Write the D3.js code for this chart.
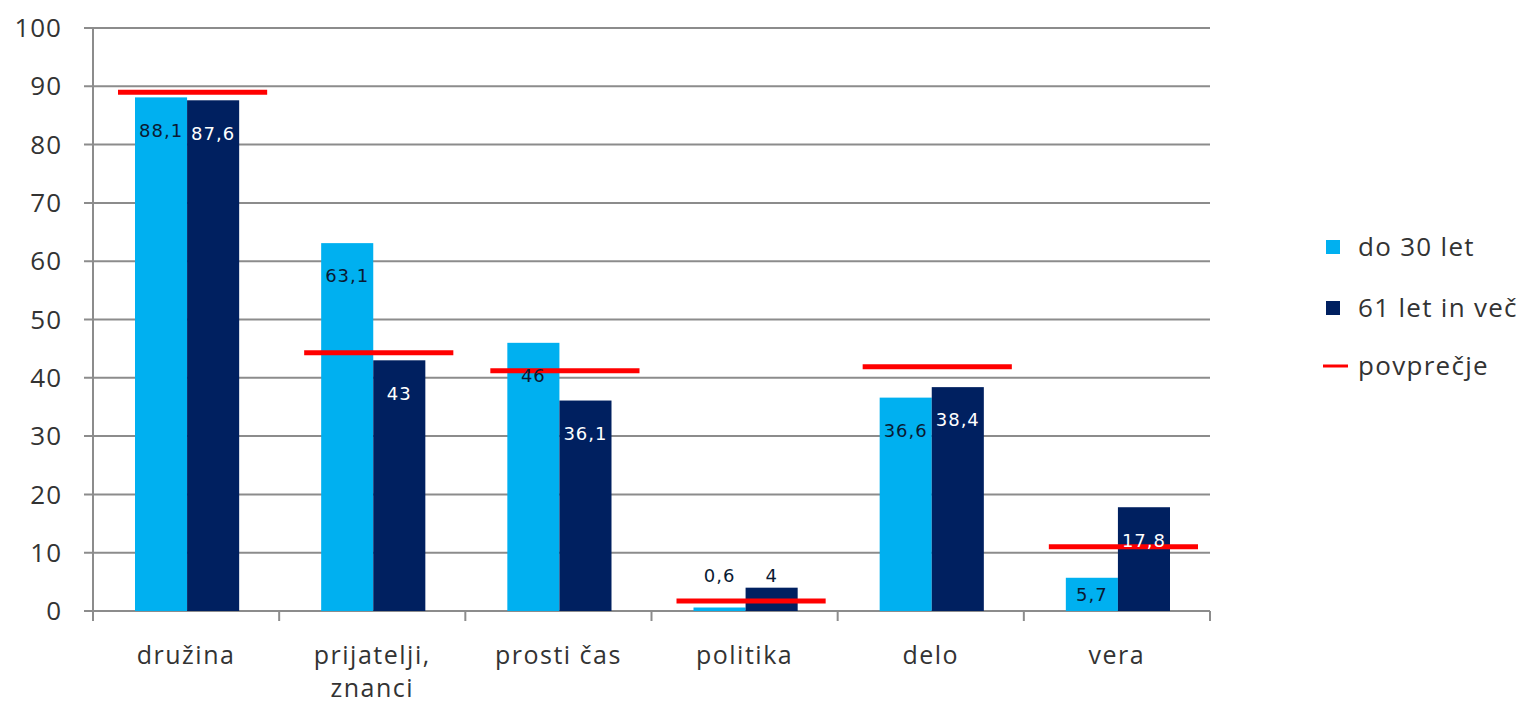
<!DOCTYPE html>
<html>
<head>
<meta charset="utf-8">
<script src="https://cdn.jsdelivr.net/npm/d3@7"></script>
<style>
  body { margin: 0; background: #fff; }
  svg { display: block; }
</style>
</head>
<body>
<div id="chart"></div>
<script>
// data
var categories = ["družina", "prijatelji, znanci", "prosti čas", "politika", "delo", "vera"];
var seriesNames = ["do 30 let", "61 let in več"];
var young = [88.1, 63.1, 46, 0.6, 36.6, 5.7];
var old = [87.6, 43, 36.1, 4, 38.4, 17.8];
var average = [89, 44.3, 41.2, 1.7, 41.9, 11];
var yTicks = [0, 10, 20, 30, 40, 50, 60, 70, 80, 90, 100];
var colors = ["#00b0f0", "#002060"];

var margin = {top: 28, right: 316, bottom: 94, left: 93},
    width = 1526 - margin.left - margin.right,
    height = 705 - margin.top - margin.bottom;

var labelFont = "'Open Sans', Lato, sans-serif";

var svg = d3.select("#chart")
  .append("svg")
    .attr("width", 1526)
    .attr("height", 705)
  .append("g")
    .attr("transform", "translate(" + margin.left + "," + margin.top + ")");

var y = d3.scaleLinear().domain([0, 100]).range([height, 0]);
var x = d3.scaleBand().domain(categories).range([0, width]).padding(0);
var x1 = d3.scaleBand().domain(seriesNames).range([42, x.bandwidth() - 40]).padding(0);

// gridlines
svg.selectAll(".grid")
  .data(yTicks)
  .enter().append("line")
    .attr("x1", -9).attr("x2", width)
    .attr("y1", function(d) { return y(d); })
    .attr("y2", function(d) { return y(d); })
    .attr("stroke", "#8c8c8c")
    .attr("stroke-width", 2);

// y labels
svg.selectAll(".ylab")
  .data(yTicks)
  .enter().append("text")
    .attr("x", -31)
    .attr("y", function(d) { return y(d); })
    .attr("dy", "0.35em")
    .attr("text-anchor", "end")
    .style("font-family", labelFont)
    .style("font-size", "26px")
    .style("letter-spacing", "1px")
    .attr("fill", "#333")
    .text(function(d) { return d; });

// axes lines
svg.append("line")
  .attr("x1", 0).attr("x2", 0).attr("y1", 0).attr("y2", height + 10)
  .attr("stroke", "#8c8c8c").attr("stroke-width", 2);
var edges = categories.map(function(c) { return x(c); }).concat([width]);
svg.selectAll(".xtick")
  .data(edges)
  .enter().append("line")
    .attr("x1", function(d) { return d; }).attr("x2", function(d) { return d; })
    .attr("y1", height).attr("y2", height + 10)
    .attr("stroke", "#8c8c8c").attr("stroke-width", 2);

// bars
var rows = categories.map(function(c, i) {
  return {cat: c, i: i, vals: [young[i], old[i]]};
});
var groups = svg.selectAll(".grp")
  .data(rows)
  .enter().append("g")
    .attr("transform", function(d) { return "translate(" + x(d.cat) + ",0)"; });

groups.selectAll("rect")
  .data(function(d) { return d.vals.map(function(v, k) { return {v: v, k: k}; }); })
  .enter().append("rect")
    .attr("x", function(d) { return x1(seriesNames[d.k]); })
    .attr("y", function(d) { return y(d.v); })
    .attr("width", x1.bandwidth())
    .attr("height", function(d) { return height - y(d.v); })
    .attr("fill", function(d) { return colors[d.k]; });

// average lines
groups.append("line")
  .attr("x1", 25).attr("x2", x.bandwidth() - 12)
  .attr("y1", function(d) { return y(average[d.i]); })
  .attr("y2", function(d) { return y(average[d.i]); })
  .attr("stroke", "#ff0000")
  .attr("stroke-width", 5);

// value labels
groups.selectAll(".val")
  .data(function(d) { return d.vals.map(function(v, k) { return {v: v, k: k}; }); })
  .enter().append("text")
    .attr("x", function(d) { return x1(seriesNames[d.k]) + x1.bandwidth() / 2; })
    .attr("y", function(d) {
      if (d.v < 5) return y(0) - 35;
      return Math.min(y(d.v) + 33, (y(d.v) + y(0)) / 2);
    })
    .attr("dy", "0.35em")
    .attr("text-anchor", "middle")
    .style("font-family", "'DejaVu Sans', Verdana, sans-serif")
    .style("font-size", "18px")
    .style("letter-spacing", "1px")
    .attr("fill", function(d) { return (d.k === 1 && d.v >= 5) ? "#fff" : "#0a1a33"; })
    .text(function(d) { return String(d.v).replace(".", ","); });

// category labels
groups.append("text")
  .attr("x", x.bandwidth() / 2)
  .attr("y", height + 53)
  .attr("text-anchor", "middle")
  .style("font-family", labelFont)
  .style("font-size", "25px")
  .style("letter-spacing", "1.5px")
  .attr("fill", "#333")
  .each(function(d) {
    var parts = d.cat.indexOf(", ") > 0 ? [d.cat.split(", ")[0] + ",", d.cat.split(", ")[1]] : [d.cat];
    var t = d3.select(this);
    parts.forEach(function(p, j) {
      t.append("tspan").attr("x", x.bandwidth() / 2).attr("dy", j === 0 ? 0 : 33).text(p);
    });
  });

// legend
var legend = svg.append("g").attr("transform", "translate(" + (width + 116) + ",0)");
seriesNames.forEach(function(s, k) {
  var ly = 219 + k * 61;
  legend.append("rect")
    .attr("x", 0).attr("y", ly - 7).attr("width", 14).attr("height", 14)
    .attr("fill", colors[k]);
  legend.append("text")
    .attr("x", 32).attr("y", ly).attr("dy", "0.35em")
    .style("font-family", labelFont)
    .style("font-size", "26px").style("letter-spacing", "1.3px").attr("fill", "#333")
    .text(s);
});
legend.append("line")
  .attr("x1", -3).attr("x2", 22).attr("y1", 338).attr("y2", 338)
  .attr("stroke", "#ff0000").attr("stroke-width", 3);
legend.append("text")
  .attr("x", 32).attr("y", 338).attr("dy", "0.35em")
  .style("font-family", labelFont)
  .style("font-size", "26px").style("letter-spacing", "1.3px").attr("fill", "#333")
  .text("povprečje");
</script>
</body>
</html>
